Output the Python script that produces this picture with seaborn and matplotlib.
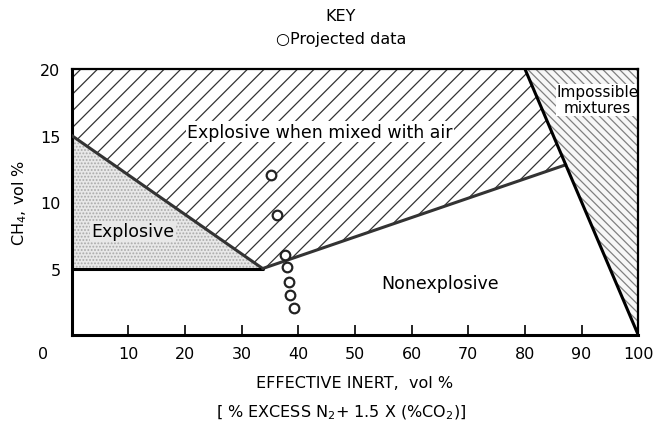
import matplotlib
matplotlib.use('Agg')
import matplotlib.pyplot as plt
import matplotlib.transforms as mtransforms
from matplotlib.patches import Polygon
import seaborn as sns
import pandas as pd

# boundary lines (effective inert %, CH4 %)
upper_limit_x = [0, 33.7]
upper_limit_y = [15, 5]
lower_limit_x = [0, 33.7]
lower_limit_y = [5, 5]
nose_x = [33.7, 87.2]
nose_y = [5, 12.8]
impossible_x = [80, 100]
impossible_y = [20, 0]

# projected data points
projected_x = [35.1, 36.3, 37.6, 38.0, 38.3, 38.6, 39.2]
projected_y = [12.0, 9.0, 6.0, 5.1, 4.0, 3.0, 2.0]

x_ticks = [0, 10, 20, 30, 40, 50, 60, 70, 80, 90, 100]
y_ticks = [5, 10, 15, 20]

sns.set_style('ticks', {'axes.edgecolor': 'black', 'text.color': 'black',
                        'xtick.color': 'black', 'ytick.color': 'black',
                        'axes.labelcolor': 'black'})
plt.rcParams['font.family'] = ['DejaVu Sans']
plt.rcParams['hatch.linewidth'] = 0.9

fig = plt.figure(figsize=(6.58, 4.27), dpi=100)
ax = fig.add_axes([0.109, 0.213, 0.861, 0.623])

# regions
explosive_air = list(zip([0, 0, 80] + nose_x[::-1] + upper_limit_x[::-1][:1],
                         [15, 20, 20] + nose_y[::-1] + upper_limit_y[::-1][:1]))
ax.add_patch(Polygon(explosive_air, closed=True, facecolor='white',
                     edgecolor='#333333', hatch='//', linewidth=0, zorder=1))
impossible = [(impossible_x[0], impossible_y[0]), (100, 20),
              (impossible_x[1], impossible_y[1])]
ax.add_patch(Polygon(impossible, closed=True, facecolor='#f7f7f7',
                     edgecolor='#808080', hatch='\\\\\\\\', linewidth=0, zorder=1))
explosive = [(0, 5), (0, 15), (upper_limit_x[1], upper_limit_y[1])]
ax.add_patch(Polygon(explosive, closed=True, facecolor='#e8e8e8',
                     edgecolor='#aaaaaa', hatch='.....', linewidth=0, zorder=1))

# boundary lines
for bx, by, c in [(upper_limit_x, upper_limit_y, '#333333'),
                  (lower_limit_x, lower_limit_y, 'black'),
                  (nose_x, nose_y, '#333333'),
                  (impossible_x, impossible_y, 'black')]:
    sns.lineplot(x=bx, y=by, ax=ax, color=c, linewidth=2.2, sort=False,
                 estimator=None, zorder=3)

pts = pd.DataFrame({'inert': projected_x, 'ch4': projected_y})
sns.scatterplot(data=pts, x='inert', y='ch4', ax=ax, s=48, marker='o',
                facecolor='white', edgecolor='#222222', linewidth=1.6, zorder=4)

ax.set_xlim(0, 100)
ax.set_ylim(0, 20)
ax.set_xticks(x_ticks)
ax.set_yticks(y_ticks)
ax.tick_params(axis='x', direction='in', length=7, width=1.2, top=True,
               pad=8, labelsize=11.5)
ax.tick_params(axis='y', which='both', left=False, right=True, direction='in',
               length=3, width=1, pad=8, labelsize=11.5)
for side in ['bottom', 'left']:
    ax.spines[side].set_linewidth(2.2)
for side in ['top', 'right']:
    ax.spines[side].set_linewidth(1.6)
    ax.spines[side].set_visible(True)
    ax.spines[side].set_zorder(5)

# the "0" label sits to the left of the origin in the original
zero_lab = ax.get_xticklabels()[0]
zero_lab.set_transform(zero_lab.get_transform() +
                       mtransforms.ScaledTranslation(-0.29, 0, fig.dpi_scale_trans))

ax.set_xlabel('EFFECTIVE INERT,  vol %', fontsize=11.5, labelpad=10)
ax.set_ylabel('CH$_4$, vol %', fontsize=11.5, labelpad=8)
fig.text(0.518, 0.033, r'$\left[\right.$ % EXCESS N$_2$+ 1.5 X (%CO$_2$)$\left.\right]$',
         ha='center', va='center', fontsize=11.5)

ax.text(43.8, 15.3, 'Explosive when mixed with air', ha='center', va='center',
        fontsize=12.5, fontweight='medium',
        bbox=dict(facecolor='white', edgecolor='none', pad=1))
ax.text(10.8, 7.8, 'Explosive', ha='center', va='center', fontsize=12.5,
        fontweight='medium',
        bbox=dict(facecolor='#e8e8e8', edgecolor='none', pad=1))
ax.text(65, 3.9, 'Nonexplosive', ha='center', va='center', fontsize=12.5,
        fontweight='medium')
ax.text(92.8, 17.7, 'Impossible\nmixtures', ha='center', va='center',
        fontsize=11, linespacing=1.1,
        bbox=dict(facecolor='white', edgecolor='none', pad=0.3))

fig.text(0.518, 0.962, 'KEY', ha='center', va='center', fontsize=11.5)
fig.text(0.518, 0.908, '\u25cbProjected data', ha='center', va='center',
         fontsize=11.5)

fig.savefig('out.png', dpi=100)
